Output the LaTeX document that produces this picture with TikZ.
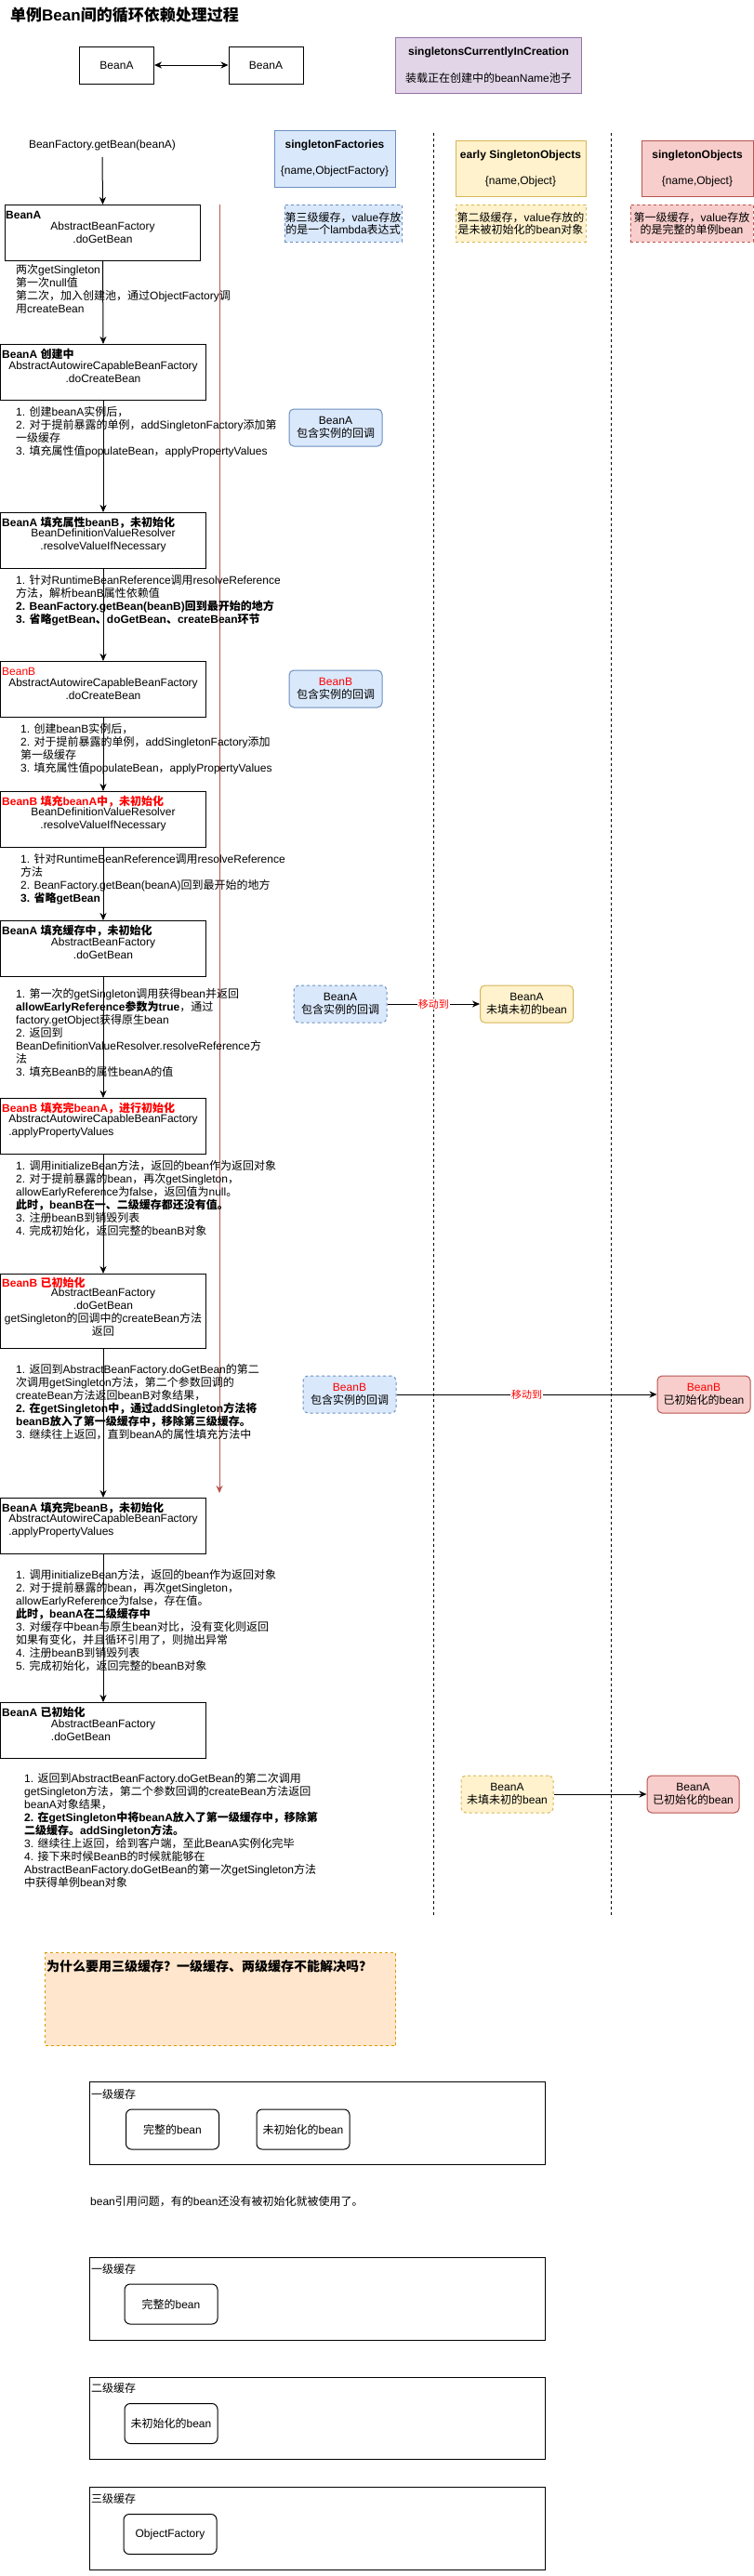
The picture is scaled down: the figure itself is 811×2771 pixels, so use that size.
\documentclass[tikz,border=0pt]{standalone}
\usepackage{fontspec}
\setmainfont{Liberation Sans}
\newfontfamily\zhfont{Noto Sans CJK SC}
\newXeTeXintercharclass\zhclass
\newcount\zhcode
\def\zhrange#1#2{\zhcode=#1\relax
  \loop\XeTeXcharclass\zhcode=\zhclass
  \ifnum\zhcode<#2\advance\zhcode by 1\repeat}
\zhrange{"3000}{"303F}
\zhrange{"4E00}{"9FFF}
\zhrange{"FF00}{"FFEF}
\XeTeXinterchartoks 0 \zhclass = {\begingroup\zhfont}
\XeTeXinterchartoks 4095 \zhclass = {\begingroup\zhfont}
\XeTeXinterchartoks \zhclass 0 = {\endgroup}
\XeTeXinterchartoks \zhclass 4095 = {\endgroup}
\XeTeXinterchartokenstate=1
\usepackage{xcolor}
\usetikzlibrary{arrows.meta}
\definecolor{cbfill}{HTML}{DAE8FC}
\definecolor{cbline}{HTML}{6C8EBF}
\definecolor{earlyfill}{HTML}{FFF2CC}
\definecolor{earlyline}{HTML}{D6B656}
\definecolor{readyfill}{HTML}{F8CECC}
\definecolor{readyline}{HTML}{B85450}
\definecolor{poolfill}{HTML}{E1D5E7}
\definecolor{poolline}{HTML}{9673A6}
\definecolor{whyfill}{HTML}{FFE6CC}
\definecolor{whyline}{HTML}{D79B00}
\definecolor{hotred}{HTML}{FF0000}
\newcommand\basefont{\fontsize{12}{14}\selectfont}

\begin{document}
\begin{tikzpicture}[
    x=1pt, y=-1pt,
    >={Stealth[length=8pt, width=7pt, inset=2.5pt]},
    every node/.style={inner sep=0pt, font=\basefont},
    flowbox/.style={draw, line width=1pt, anchor=north west, minimum width=221pt, minimum height=60pt},
    boxtitle/.style={anchor=west, font=\basefont\bfseries},
    notetext/.style={anchor=north west, align=left},
    flowarrow/.style={->, line width=1pt},
    cachehead/.style={draw, line width=1pt, align=center},
    cachenote/.style={draw, line width=1pt, dash pattern=on 3pt off 3pt, align=center, font=\fontsize{12}{13}\selectfont},
    beanbox/.style={draw, line width=1pt, rounded corners=5pt, minimum width=100pt, minimum height=40pt, align=center},
    movelabel/.style={fill=white, text=hotred, font=\fontsize{11}{12}\selectfont, inner sep=1pt},
    lanedash/.style={line width=1pt, dash pattern=on 3pt off 3pt},
    levelbox/.style={draw, line width=1pt, anchor=north west, minimum width=490pt, minimum height=89pt},
    slotbox/.style={draw, line width=1pt, rounded corners=6pt, minimum width=100pt, minimum height=43pt}
]
\useasboundingbox[fill=white] (0,0) rectangle (811,2771);

\node[anchor=west, font=\fontsize{17}{20}\selectfont\bfseries] (title) at (11,16) {单例Bean间的循环依赖处理过程};

\node[draw, line width=1pt, minimum width=80pt, minimum height=40pt] (beanL) at (125.5,70) {BeanA};
\node[draw, line width=1pt, minimum width=80pt, minimum height=40pt] (beanR) at (286,70) {BeanA};
\draw[<->, line width=1pt] (beanL) -- (beanR);

\node[cachehead, fill=poolfill, draw=poolline, minimum width=200pt, minimum height=60pt] (pool) at (525.5,70)
    {\textbf{singletonsCurrentlyInCreation}\\[15pt]装载正在创建中的beanName池子};

\node[cachehead, fill=cbfill, draw=cbline, minimum width=130pt, minimum height=61pt] (sfac) at (360,170.5)
    {\textbf{singletonFactories}\\[14pt]\{name,ObjectFactory\}};
\node[cachehead, fill=earlyfill, draw=earlyline, minimum width=140pt, minimum height=60pt] (early) at (560,181)
    {\textbf{early SingletonObjects}\\[14pt]\{name,Object\}};
\node[cachehead, fill=readyfill, draw=readyline, minimum width=120pt, minimum height=60pt] (sobj) at (750,181)
    {\textbf{singletonObjects}\\[14pt]\{name,Object\}};

\node[cachenote, fill=cbfill, draw=cbline, minimum width=126pt, minimum height=40pt] (sfacnote) at (369,240)
    {第三级缓存，value存放\\的是一个lambda表达式};
\node[cachenote, fill=earlyfill, draw=earlyline, minimum width=140pt, minimum height=40pt] (earlynote) at (560,240)
    {第二级缓存，value存放的\\是未被初始化的bean对象};
\node[cachenote, fill=readyfill, draw=readyline, minimum width=132pt, minimum height=40pt] (sobjnote) at (744,240)
    {第一级缓存，value存放\\的是完整的单例bean};

\coordinate (lane1top) at (466,143);
\coordinate (lane1end) at (466,2060);
\coordinate (lane2top) at (657,143);
\coordinate (lane2end) at (657,2060);
\draw[lanedash] (lane1top) -- (lane1end);
\draw[lanedash] (lane2top) -- (lane2end);

\coordinate (backtop) at (236,220);
\coordinate (backend) at (236,1606);
\draw[->, line width=1pt, readyline] (backtop) -- (backend);

\node (start) at (110,156) {BeanFactory.getBean(beanA)};

\node[flowbox, minimum width=210pt] (getA) at (5,220) {};
\node[boxtitle] (getAtitle) at ([xshift=1pt, yshift=-11pt]getA.north west) {BeanA};
\node[align=center] (getAbody) at (getA.center) {AbstractBeanFactory\\.doGetBean};
\node[notetext] (getAnote) at (17,284) {两次getSingleton\\第一次null值\\第二次，加入创建池，通过ObjectFactory调\\用createBean};

\node[flowbox] (createA) at (0,370) {};
\node[boxtitle] (createAtitle) at ([xshift=2pt, yshift=-11pt]createA.north west) {BeanA 创建中};
\node[align=center] (createAbody) at (createA.center) {AbstractAutowireCapableBeanFactory\\.doCreateBean};
\node[notetext] (createAnote) at (17,437) {1. 创建beanA实例后，\\2. 对于提前暴露的单例，addSingletonFactory添加第\\一级缓存\\3. 填充属性值populateBean，applyPropertyValues};

\node[beanbox, fill=cbfill, draw=cbline] (cbA) at (361,460) {BeanA\\包含实例的回调};

\node[flowbox] (fillA) at (0,551) {};
\node[boxtitle] (fillAtitle) at ([xshift=2pt, yshift=-11pt]fillA.north west) {BeanA 填充属性beanB，未初始化};
\node[align=center] (fillAbody) at (fillA.center) {BeanDefinitionValueResolver\\.resolveValueIfNecessary};
\node[notetext] (fillAnote) at (17,618) {1. 针对RuntimeBeanReference调用resolveReference\\方法，解析beanB属性依赖值\\\textbf{2. BeanFactory.getBean(beanB)回到最开始的地方}\\\textbf{3. 省略getBean、doGetBean、createBean环节}};

\node[flowbox] (createB) at (0,711) {};
\node[boxtitle, font=\basefont, text=hotred] (createBtitle) at ([xshift=2pt, yshift=-11pt]createB.north west) {BeanB};
\node[align=center] (createBbody) at (createB.center) {AbstractAutowireCapableBeanFactory\\.doCreateBean};
\node[notetext] (createBnote) at (22,778) {1. 创建beanB实例后，\\2. 对于提前暴露的单例，addSingletonFactory添加\\第一级缓存\\3. 填充属性值populateBean，applyPropertyValues};

\node[beanbox, fill=cbfill, draw=cbline] (cbB) at (361,741) {\textcolor{hotred}{BeanB}\\包含实例的回调};

\node[flowbox] (fillB) at (0,851) {};
\node[boxtitle, text=hotred] (fillBtitle) at ([xshift=2pt, yshift=-11pt]fillB.north west) {BeanB 填充beanA中，未初始化};
\node[align=center] (fillBbody) at (fillB.center) {BeanDefinitionValueResolver\\.resolveValueIfNecessary};
\node[notetext] (fillBnote) at (22,918) {1. 针对RuntimeBeanReference调用resolveReference\\方法\\2. BeanFactory.getBean(beanA)回到最开始的地方\\\textbf{3. 省略getBean}};

\node[flowbox] (cacheA) at (0,990) {};
\node[boxtitle] (cacheAtitle) at ([xshift=2pt, yshift=-11pt]cacheA.north west) {BeanA 填充缓存中，未初始化};
\node[align=center] (cacheAbody) at (cacheA.center) {AbstractBeanFactory\\.doGetBean};
\node[notetext] (cacheAnote) at (17,1063) {1. 第一次的getSingleton调用获得bean并返回\\\textbf{allowEarlyReference参数为true}，通过\\factory.getObject获得原生bean\\2. 返回到\\BeanDefinitionValueResolver.resolveReference方\\法\\3. 填充BeanB的属性beanA的值};

\node[beanbox, fill=cbfill, draw=cbline, dash pattern=on 3pt off 3pt] (cbAmove) at (366,1080) {BeanA\\包含实例的回调};
\node[beanbox, fill=earlyfill, draw=earlyline] (earlyA) at (566.5,1080) {BeanA\\未填未初的bean};
\draw[flowarrow] (cbAmove) -- node[movelabel] (moveA) {移动到} (earlyA);

\node[flowbox] (initB) at (0,1181) {};
\node[boxtitle, text=hotred] (initBtitle) at ([xshift=2pt, yshift=-11pt]initB.north west) {BeanB 填充完beanA，进行初始化};
\node[align=left] (initBbody) at (initB.center) {AbstractAutowireCapableBeanFactory\\.applyPropertyValues};
\node[notetext] (initBnote) at (17,1248) {1. 调用initializeBean方法，返回的bean作为返回对象\\2. 对于提前暴露的bean，再次getSingleton，\\allowEarlyReference为false，返回值为null。\\\textbf{此时，beanB在一、二级缓存都还没有值。}\\3. 注册beanB到销毁列表\\4. 完成初始化，返回完整的beanB对象};

\node[flowbox, minimum height=80pt] (doneB) at (0,1370) {};
\node[boxtitle, text=hotred] (doneBtitle) at ([xshift=2pt, yshift=-10pt]doneB.north west) {BeanB 已初始化};
\node[align=center] (doneBbody) at ([yshift=-1pt]doneB.center) {AbstractBeanFactory\\.doGetBean\\getSingleton的回调中的createBean方法\\返回};
\node[notetext] (doneBnote) at (17,1467) {1. 返回到AbstractBeanFactory.doGetBean的第二\\次调用getSingleton方法，第二个参数回调的\\createBean方法返回beanB对象结果，\\\textbf{2. 在getSingleton中，通过addSingleton方法将}\\\textbf{beanB放入了第一级缓存中，移除第三级缓存。}\\3. 继续往上返回，直到beanA的属性填充方法中};

\node[beanbox, fill=cbfill, draw=cbline, dash pattern=on 3pt off 3pt] (cbBmove) at (376,1500) {\textcolor{hotred}{BeanB}\\包含实例的回调};
\node[beanbox, fill=readyfill, draw=readyline] (readyB) at (757,1500) {\textcolor{hotred}{BeanB}\\已初始化的bean};
\draw[flowarrow] (cbBmove) -- node[movelabel] (moveB) {移动到} (readyB);

\node[flowbox] (fillDone) at (0,1611) {};
\node[boxtitle] (fillDonetitle) at ([xshift=2pt, yshift=-11pt]fillDone.north west) {BeanA 填充完beanB，未初始化};
\node[align=left] (fillDonebody) at (fillDone.center) {AbstractAutowireCapableBeanFactory\\.applyPropertyValues};
\node[notetext] (fillDonenote) at (17,1688) {1. 调用initializeBean方法，返回的bean作为返回对象\\2. 对于提前暴露的bean，再次getSingleton，\\allowEarlyReference为false，存在值。\\\textbf{此时，beanA在二级缓存中}\\3. 对缓存中bean与原生bean对比，没有变化则返回\\如果有变化，并且循环引用了，则抛出异常\\4. 注册beanB到销毁列表\\5. 完成初始化，返回完整的beanB对象};

\node[flowbox] (doneA) at (0,1831) {};
\node[boxtitle] (doneAtitle) at ([xshift=2pt, yshift=-11pt]doneA.north west) {BeanA 已初始化};
\node[align=left] (doneAbody) at (doneA.center) {AbstractBeanFactory\\.doGetBean};
\node[notetext] (doneAnote) at (26,1907) {1. 返回到AbstractBeanFactory.doGetBean的第二次调用\\getSingleton方法，第二个参数回调的createBean方法返回\\beanA对象结果，\\\textbf{2. 在getSingleton中将beanA放入了第一级缓存中，移除第}\\\textbf{二级缓存。addSingleton方法。}\\3. 继续往上返回，给到客户端，至此BeanA实例化完毕\\4. 接下来时候BeanB的时候就能够在\\AbstractBeanFactory.doGetBean的第一次getSingleton方法\\中获得单例bean对象};

\node[beanbox, minimum width=99pt, fill=earlyfill, draw=earlyline, dash pattern=on 3pt off 3pt] (earlyAmove) at (545.5,1930) {BeanA\\未填未初的bean};
\node[beanbox, minimum width=99pt, fill=readyfill, draw=readyline] (readyA) at (745.5,1930) {BeanA\\已初始化的bean};
\draw[flowarrow] (earlyAmove) -- (readyA);

\draw[flowarrow] ([yshift=-7pt]start.south) -- (getA.north);
\draw[flowarrow] (getA.south) -- (createA.north);
\draw[flowarrow] (createA.south) -- (fillA.north);
\draw[flowarrow] (fillA.south) -- (createB.north);
\draw[flowarrow] (createB.south) -- (fillB.north);
\draw[flowarrow] (fillB.south) -- (cacheA.north);
\draw[flowarrow] (cacheA.south) -- (initB.north);
\draw[flowarrow] (initB.south) -- (doneB.north);
\draw[flowarrow] (doneB.south) -- (fillDone.north);
\draw[flowarrow] (fillDone.south) -- (doneA.north);

\node[draw=whyline, fill=whyfill, line width=1pt, dash pattern=on 3pt off 3pt, anchor=north west, minimum width=377pt, minimum height=100pt] (why) at (48,2100) {};
\node[anchor=west, font=\fontsize{14}{16}\selectfont\bfseries] (whytext) at ([xshift=2pt, yshift=-15pt]why.north west) {为什么要用三级缓存？一级缓存、两级缓存不能解决吗？};

\node[levelbox] (oneLevel) at (96,2239) {};
\node[anchor=west] (oneLevellabel) at ([xshift=2pt, yshift=-14pt]oneLevel.north west) {一级缓存};
\node[slotbox] (oneFull) at (185.5,2290.5) {完整的bean};
\node[slotbox] (oneHalf) at (326,2290.5) {未初始化的bean};

\node[anchor=west] (issue) at (97,2368) {bean引用问题，有的bean还没有被初始化就被使用了。};

\node[levelbox] (firstLevel) at (96,2428) {};
\node[anchor=west] (firstLevellabel) at ([xshift=2pt, yshift=-13pt]firstLevel.north west) {一级缓存};
\node[slotbox] (firstFull) at (184,2478.5) {完整的bean};

\node[levelbox, minimum height=88pt] (secondLevel) at (96,2557) {};
\node[anchor=west] (secondLevellabel) at ([xshift=2pt, yshift=-12pt]secondLevel.north west) {二级缓存};
\node[slotbox] (secondHalf) at (184,2607) {未初始化的bean};

\node[levelbox] (thirdLevel) at (96,2675) {};
\node[anchor=west] (thirdLevellabel) at ([xshift=2pt, yshift=-13pt]thirdLevel.north west) {三级缓存};
\node[slotbox] (thirdFactory) at (183,2726) {ObjectFactory};
\end{tikzpicture}
\end{document}
